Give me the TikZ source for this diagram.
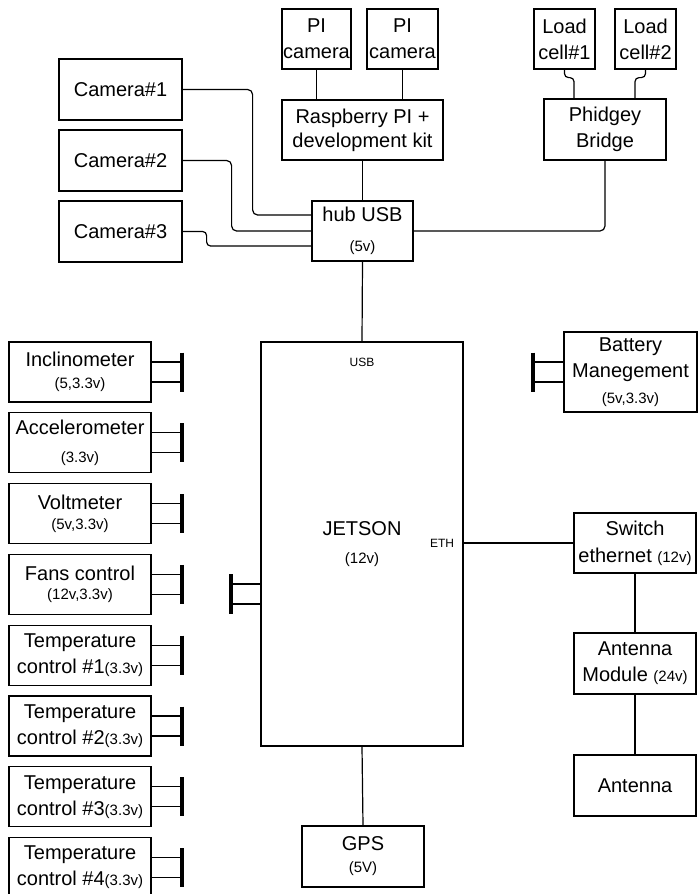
\documentclass[tikz,border=0pt]{standalone}
\usepackage{fontspec}
\setmainfont{Liberation Sans}
\usepackage{tikz}
\newcommand{\sm}[1]{{\fontsize{15}{18}\selectfont #1}}

\begin{document}
\begin{tikzpicture}[x=1pt, y=-1pt,
    box/.style={draw, line width=1.2pt, align=center, inner sep=0pt, font=\fontsize{20}{26}\selectfont},
    wire/.style={line width=1.2pt},
    bar/.style={line width=4pt},
    port/.style={font=\fontsize{12}{14}\selectfont}]

    \useasboundingbox (0,0) rectangle (698,894);

    % Raspberry PI and its cameras
    \node[box, minimum width=69pt, minimum height=60pt] at (316.5,39) (picam1) {PI\\camera};
    \node[box, minimum width=71pt, minimum height=60pt] at (402.5,39) (picam2) {PI\\camera};
    \node[box, minimum width=161pt, minimum height=60pt] at (362.5,130) (rpi) {Raspberry PI +\\[-2pt]development kit};
    \draw[wire] (picam1.south) -- (picam1.south |- rpi.north);
    \draw[wire] (picam2.south) -- (picam2.south |- rpi.north);

    % Load cells
    \node[box, minimum width=61pt, minimum height=60pt] at (564.5,39) (lc1) {Load\\cell\#1};
    \node[box, minimum width=61pt, minimum height=60pt] at (645.5,39) (lc2) {Load\\cell\#2};
    \node[box, minimum width=122pt, minimum height=61pt] at (605,129.5) (phid) {Phidgey\\Bridge};
    \draw[wire, rounded corners=4pt] (lc1.south) -- ++(0,8) -| ([xshift=-31pt]phid.north);
    \draw[wire, rounded corners=4pt] (lc2.south) -- ++(0,8) -| ([xshift=30pt]phid.north);

    % Cameras
    \node[box, minimum width=123pt, minimum height=61pt] at (120.5,89.5) (cam1) {Camera\#1};
    \node[box, minimum width=123pt, minimum height=61pt] at (120.5,160.5) (cam2) {Camera\#2};
    \node[box, minimum width=123pt, minimum height=61pt] at (120.5,231.5) (cam3) {Camera\#3};

    % Hub
    \node[box, minimum width=101pt, minimum height=60pt] at (362.5,231) (hub) {hub USB\\[4pt]\sm{(5v)}};
    \draw[wire, rounded corners=5pt] (cam1.east) -- ++(70,0) |- ([yshift=16pt]hub.west);
    \draw[wire, rounded corners=5pt] (cam2.east) -- ++(49,0) |- (hub.west);
    \draw[wire, rounded corners=4pt] (cam3.east) -- ++(24,0) |- ([yshift=-15pt]hub.west);
    \draw[wire, rounded corners=5pt] (phid.south) |- (hub.east);
    \draw[wire] (rpi.south) -- (hub.north);

    % Jetson
    \node[box, minimum width=202pt, minimum height=404pt] at (362,544) (jetson) {JETSON\\[2pt]\sm{(12v)}};
    \node[port] at (362,362) (usb) {USB};
    \node[port] at (442,543) (eth) {ETH};
    \draw[wire] (hub.south) -- (jetson.north);
    \coordinate (jbar) at (231,594);
    \draw[wire] (jbar) ++(0,-10) coordinate (ja) -- (ja -| jetson.west);
    \draw[wire] (jbar) ++(0,10) coordinate (jb) -- (jb -| jetson.west);
    \draw[bar] (jbar) ++(0,-20) -- ++(0,40);

    % Sensors on the left
    \foreach \name/\txt [count=\i from 0] in {
        incl/{Inclinometer\\[-4pt]\sm{(5,3.3v)}},
        accel/{Accelerometer\\[2pt]\sm{(3.3v)}},
        volt/{Voltmeter\\[-6pt]\sm{(5v,3.3v)}},
        fans/{Fans control\\[-7pt]\sm{(12v,3.3v)}},
        temp1/{Temperature\\control \#1\sm{(3.3v)}},
        temp2/{Temperature\\control \#2\sm{(3.3v)}},
        temp3/{Temperature\\control \#3\sm{(3.3v)}},
        temp4/{Temperature\\control \#4\sm{(3.3v)}}} {
        \node[box, minimum width=142pt, minimum height=60pt] at (80,372+70.8*\i) (\name) {\txt};
        \draw[wire] ([yshift=10pt]\name.east) -- ++(30,0);
        \draw[wire] ([yshift=-10pt]\name.east) -- ++(30,0);
        \draw[bar] ([xshift=30pt]\name.east) ++(0,-19.5) -- ++(0,39);
    }

    % Right side
    \node[box, minimum width=133pt, minimum height=80pt] at (630.5,372) (batt) {Battery\\Manegement\\\sm{(5v,3.3v)}};
    \draw[wire] ([yshift=10pt]batt.west) -- ++(-30,0);
    \draw[wire] ([yshift=-10pt]batt.west) -- ++(-30,0);
    \draw[bar] ([xshift=-30pt]batt.west) ++(0,-19.5) -- ++(0,39);

    \node[box, minimum width=122pt, minimum height=60pt] at (635,543) (sw) {Switch\\[1pt]ethernet \sm{(12v)}};
    \node[box, minimum width=122pt, minimum height=61pt] at (635,663.5) (antm) {Antenna\\Module \sm{(24v)}};
    \node[box, minimum width=122pt, minimum height=61pt] at (635,785.5) (ant) {Antenna};
    \draw[wire] (jetson.east |- sw.west) -- (sw.west);
    \draw[wire] (sw.south) -- (antm.north);
    \draw[wire] (antm.south) -- (ant.north);

    % GPS
    \node[box, minimum width=122pt, minimum height=61pt] at (363,856.5) (gps) {GPS\\[-4pt]\sm{(5V)}};
    \draw[wire] (jetson.south) -- (gps.north);

\end{tikzpicture}
\end{document}
